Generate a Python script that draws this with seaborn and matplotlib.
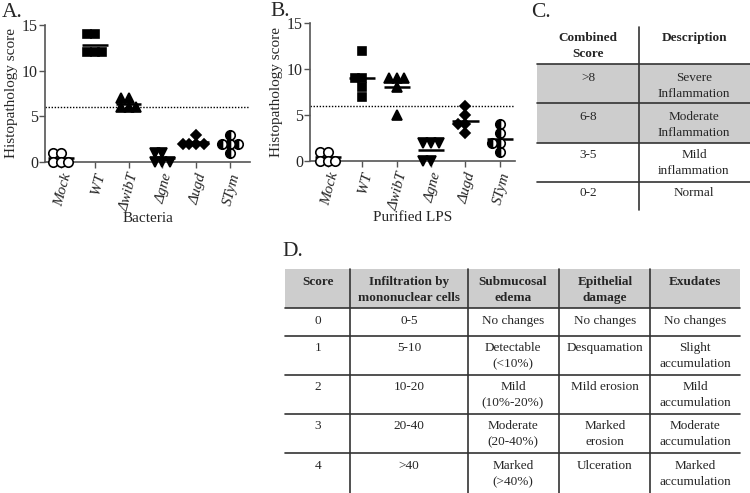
import numpy as np
import matplotlib.pyplot as plt
import seaborn as sns
from matplotlib.lines import Line2D
from matplotlib.patches import Rectangle

# Group names and markers (same for both scatter panels)
groups = ['Mock', 'WT', 'ΔwibT', 'Δgne', 'Δugd', 'STym']
markers = ['o', 's', '^', 'v', 'D', 'o']
marker_sizes = [6.8, 6.3, 7.3, 7.3, 5.3, 6.8]

# Panel A - bacteria
mock_a = [1, 1, 0, 0, 0]
wt_a = [14, 14, 12, 12, 12]
wibt_a = [7, 7, 6, 6, 6]
gne_a = [1, 1, 0, 0, 0]
ugd_a = [3, 2, 2, 2, 2]
stym_a = [3, 2, 2, 2, 1]

# Panel B - purified LPS
mock_b = [1, 1, 0, 0, 0]
wt_b = [12, 9, 9, 8, 7]
wibt_b = [9, 9, 9, 8, 5]
gne_b = [2, 2, 2, 0, 0]
ugd_b = [6, 5, 4, 4, 3]
stym_b = [4, 3, 2, 2, 1]

threshold = 6

# Panel C table
c_header = ['Combined\nScore', 'Description']
c_scores = ['>8', '6-8', '3-5', '0-2']
c_desc = ['Severe\nInflammation', 'Moderate\nInflammation', 'Mild\ninflammation', 'Normal']

# Panel D table
d_header = ['Score', 'Infiltration by\nmononuclear cells', 'Submucosal\nedema',
            'Epithelial\ndamage', 'Exudates']
d_score = ['0', '1', '2', '3', '4']
d_infiltration = ['0-5', '5-10', '10-20', '20-40', '>40']
d_edema = ['No changes', 'Detectable\n(<10%)', 'Mild\n(10%-20%)', 'Moderate\n(20-40%)', 'Marked\n(>40%)']
d_epithelial = ['No changes', 'Desquamation', 'Mild erosion', 'Marked\nerosion', 'Ulceration']
d_exudates = ['No changes', 'Slight\naccumulation', 'Mild\naccumulation',
              'Moderate\naccumulation', 'Marked\naccumulation']

sns.set_style('ticks')
plt.rcParams['font.family'] = ['Liberation Serif', 'DejaVu Serif']

fig = plt.figure(figsize=(7.5, 4.93), dpi=100)
W, H = 750, 493


def px_axes(left, top, right, bottom):
    return fig.add_axes([left / W, 1 - bottom / H, (right - left) / W, (bottom - top) / H])


axA = px_axes(45, 25, 250, 162)
axB = px_axes(310, 23, 515, 161)

swarms = []


def scatter_panel(ax, data, xlabel, xlim):
    for i, vals in enumerate(data):
        n_before = len(ax.collections)
        # smaller swarm size so the final (bigger) markers overlap like the original
        sns.swarmplot(x=[groups[i]] * len(vals), y=vals, order=groups, ax=ax,
                      marker=markers[i], size=5.2, color='black', linewidth=0)
        # swarmplot also adds empty collections for the other categories
        for coll in ax.collections[n_before:]:
            if len(coll.get_offsets()) > 0:
                swarms.append((ax, coll, i))
            else:
                coll.set_visible(False)
        ax.hlines(np.mean(vals), i - 0.38, i + 0.38, color='black', lw=1.8, zorder=3)
    ax.axhline(threshold, color='black', ls=(0, (1, 1.2)), lw=1, zorder=2)
    ax.set_xlim(*xlim)
    ax.set_ylim(0, 15)
    ax.set_yticks([0, 5, 10, 15])
    ax.set_xticks(range(len(groups)))
    ax.set_xticklabels(groups, rotation=75, ha='right', rotation_mode='anchor',
                       fontstyle='italic', fontsize=11)
    ax.tick_params(axis='y', labelsize=11.5, length=4, width=1, color='#555', pad=1)
    ax.tick_params(axis='x', length=4, width=1, color='#555', pad=3)
    ax.set_ylabel('Histopathology score', fontsize=11, labelpad=3)
    ax.set_xlabel(xlabel, fontsize=11, va='center')
    ax.xaxis.set_label_coords(0.5, -0.41)
    sns.despine(ax=ax)
    for s in ['left', 'bottom']:
        ax.spines[s].set_color('#555')
        ax.spines[s].set_linewidth(1.2)


scatter_panel(axA, [mock_a, wt_a, wibt_a, gne_a, ugd_a, stym_a], 'Bacteria', (-0.47, 5.59))
scatter_panel(axB, [mock_b, wt_b, wibt_b, gne_b, ugd_b, stym_b], 'Purified LPS', (-0.52, 5.44))

# swarm positions are set at draw time; draw once, then redraw the points with final markers
fig.canvas.draw()
for ax, coll, i in swarms:
    xy = np.asarray(coll.get_offsets())
    coll.set_visible(False)
    style = dict(ls='none', marker=markers[i], ms=marker_sizes[i], markeredgecolor='black',
                 mew=1.2, clip_on=False, zorder=4)
    if i == 0:
        style.update(markerfacecolor='white')
    elif i == 5:
        style.update(fillstyle='left', markerfacecolor='black', markerfacecoloralt='white')
    else:
        style.update(markerfacecolor='black')
    ax.plot(xy[:, 0], xy[:, 1], **style)

# overlay in pixel coordinates for letters and tables
ov = fig.add_axes([0, 0, 1, 1], facecolor='none')
ov.set_xlim(0, W)
ov.set_ylim(H, 0)
ov.axis('off')

for letter, x, y in [('A.', 2, 17), ('B.', 270, 16), ('C.', 531, 17), ('D.', 282, 256)]:
    ov.text(x, y, letter, fontsize=15.5, va='baseline', ha='left')

fs = 9.5
line_h = 16
gray = '#cdcdcd'
lc = '#333333'


def cell_text(x, y, s, bold=False):
    for k, line in enumerate(s.split('\n')):
        ov.text(x, y + k * line_h, line, ha='center', va='center', fontsize=fs,
                fontweight='bold' if bold else 'normal')


# Table C
ov.add_patch(Rectangle((537, 64), 213, 79, color=gray, lw=0))
for y in [64, 103, 143, 182]:
    ov.add_line(Line2D([537, 750], [y, y], color=lc, lw=1.2))
ov.add_line(Line2D([639, 639], [27, 210], color=lc, lw=1.2))
cell_text(588, 38, c_header[0], bold=True)
cell_text(694, 38, c_header[1], bold=True)
c_rows_y = [78, 117, 155, 193]
for s, d, y in zip(c_scores, c_desc, c_rows_y):
    cell_text(588, y, s)
    cell_text(694, y, d)

# Table D
ov.add_patch(Rectangle((285, 269), 455, 39, color=gray, lw=0))
for y in [308, 336, 375, 414, 453]:
    ov.add_line(Line2D([285, 740], [y, y], color=lc, lw=1.2))
for x in [350, 468, 559, 650]:
    ov.add_line(Line2D([x, x], [269, 493], color=lc, lw=1.2))
d_cols_x = [318, 409, 513, 605, 695]
for x, s in zip(d_cols_x, d_header):
    cell_text(x, 282, s, bold=True)
d_rows_y = [321, 348, 387, 426, 466]
for r, y in enumerate(d_rows_y):
    for x, col in zip(d_cols_x, [d_score, d_infiltration, d_edema, d_epithelial, d_exudates]):
        cell_text(x, y, col[r])

fig.savefig('out.png', dpi=100)
